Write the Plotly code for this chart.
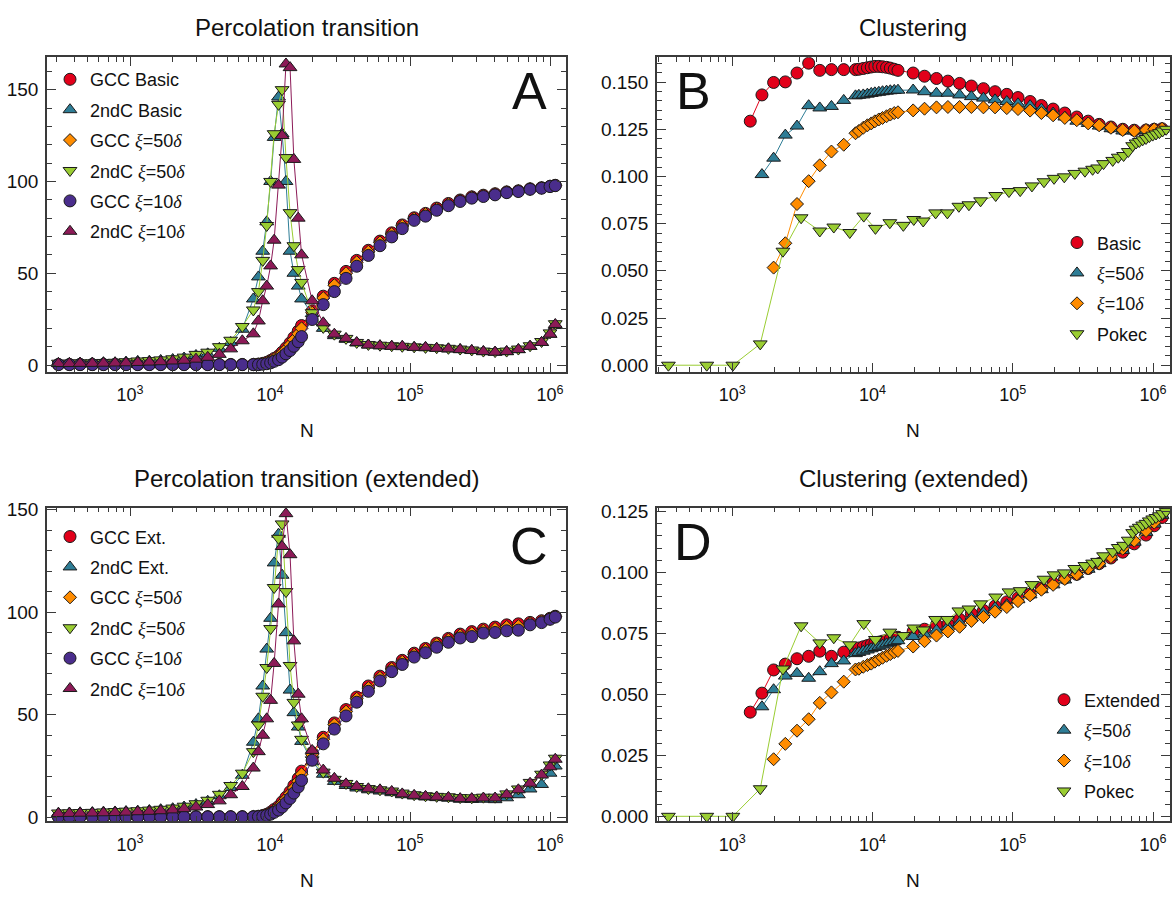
import plotly.graph_objects as go

# ---------------- network sizes ----------------
# percolation panels (A, C)
N_PERC = [308, 369, 440, 538, 646, 782, 936, 1135, 1374, 1656, 2018, 2432, 2958, 3589, 4345, 5236, 6339,
          7600, 8260, 8870, 9470, 10100, 10700, 11500, 12200, 13000, 13900, 14800, 15900, 16800,
          20000, 24000, 28800, 34900, 41600, 50400, 61000, 74000, 88000, 107000, 129000, 155000, 188000,
          228000, 276000, 334000, 405000, 490000, 594000, 720000, 870000, 1000000, 1090000]

# clustering panels (B, D) - model runs
N_CLUS = [1345, 1630, 1974, 2392, 2898, 3510, 4210, 5100, 6240, 7570,
          8000, 8600, 9200, 9800, 10400, 11100, 11800, 12600, 13400, 14300, 15200,
          19500, 23500, 28600, 34500, 41800, 50700, 61800, 74800, 90700, 109000, 133000, 160000,
          194000, 235000, 286000, 345000, 413000, 501000, 608000, 735000, 891000, 1020000, 1160000]
N_CLUS_50 = N_CLUS[1:]
N_CLUS_10 = N_CLUS[2:]

# Pokec samples
N_POKEC = [351, 659, 1011, 1585, 2300, 3100, 4210, 5300, 6890, 8670, 10500, 13300, 16600, 19700, 23000,
           28200, 34200, 41300, 48700, 59000, 75600, 94000, 113000, 137000, 167000, 197000, 233000,
           277000, 327000, 371000, 403000, 444000, 516000, 565000, 617000, 666000, 716000, 757000,
           798000, 844000, 891000, 941000, 995000, 1050000, 1110000, 1170000, 1240000]
C_POKEC = [0.0, 0.0, 0.0, 0.0113, 0.0604, 0.0781, 0.0711, 0.0732, 0.0703, 0.0790,
           0.0725, 0.0755, 0.0741, 0.0772, 0.0764, 0.0807, 0.0807, 0.0842, 0.0850, 0.0871,
           0.0899, 0.0920, 0.0925, 0.0950, 0.0972, 0.0990, 0.0998, 0.1016, 0.1028, 0.1038,
           0.1045, 0.1068, 0.1085, 0.1102, 0.1111, 0.1132, 0.1163, 0.1177, 0.1185, 0.1194,
           0.1201, 0.1211, 0.1219, 0.1225, 0.1232, 0.1241, 0.1250]

# ---------------- A: percolation transition ----------------
GCC_BASIC_A = [0.3, 0.3, 0.3, 0.3, 0.3, 0.3, 0.3, 0.3, 0.3, 0.3, 0.3, 0.3, 0.3, 0.3, 0.3, 0.3, 0.3,
               0.3, 0.5, 0.9, 1.5, 2.5, 3.6, 5.0, 7.0, 9.3, 12.0, 15.0, 18.5, 21.5,
               29.5, 37.5, 44.5, 51.0, 57.0, 62.5, 67.5, 72.0, 76.3, 80.2, 82.6, 85.5, 88.0,
               89.9, 91.6, 92.5, 93.3, 94.3, 94.9, 96.0, 96.6, 97.4, 97.9]
SND_BASIC_A = [0.9, 0.9, 1.1, 1.1, 1.3, 1.3, 1.6, 2.0, 2.1, 2.5, 3.0, 3.8, 5.2, 6.1, 9.1, 12.3, 19.5,
               36, 48, 62, 78, 100, 124, 146, 126, 100, 62, 50, 43, 36,
               28.0, 20.0, 16.0, 14.0, 12.0, 10.9, 10.5, 10.2, 10.0, 9.6, 9.4, 9.1, 8.8,
               8.4, 7.9, 7.3, 7.0, 7.3, 8.4, 10.2, 12.3, 16.8, 21.5]
GCC_50_A = [0.3, 0.3, 0.3, 0.3, 0.3, 0.3, 0.3, 0.3, 0.3, 0.3, 0.3, 0.3, 0.3, 0.3, 0.3, 0.3, 0.3,
            0.3, 0.4, 0.8, 1.4, 2.2, 3.3, 4.6, 6.5, 8.6, 11.0, 13.8, 17.0, 20.0,
            28.5, 36.5, 43.5, 50.0, 56.0, 61.7, 66.8, 71.4, 75.8, 79.7, 82.2, 85.1, 87.6,
            89.6, 91.4, 92.3, 93.1, 94.2, 94.8, 95.9, 96.5, 97.3, 97.8]
SND_50_A = [1.0, 1.0, 1.2, 1.2, 1.4, 1.5, 1.8, 2.2, 2.4, 2.8, 3.4, 4.3, 5.8, 7.0, 10.0, 13.5, 21.0,
            30, 40, 57, 76, 100, 126, 142, 150, 113, 83, 65, 52, 45,
            28.5, 20.5, 16.8, 14.5, 12.3, 11.2, 10.8, 10.5, 10.2, 9.9, 9.6, 9.4, 9.1,
            8.7, 8.2, 7.6, 7.3, 7.6, 8.7, 10.5, 12.8, 17.5, 22.5]
GCC_10_A = [0.2, 0.2, 0.2, 0.2, 0.2, 0.2, 0.2, 0.2, 0.2, 0.2, 0.2, 0.2, 0.2, 0.2, 0.2, 0.2, 0.2,
            0.2, 0.2, 0.4, 0.7, 1.2, 2.0, 2.9, 4.3, 6.1, 7.9, 10.2, 12.7, 15.5,
            24.8, 32.9, 40.0, 47.2, 53.8, 59.7, 65.0, 69.8, 74.3, 78.8, 81.1, 84.3, 86.8,
            89.1, 90.9, 91.8, 92.7, 93.9, 94.5, 95.7, 96.3, 97.2, 97.7]
SND_10_A = [0.8, 0.8, 0.9, 0.9, 1.0, 1.1, 1.2, 1.4, 1.6, 1.8, 2.2, 2.6, 3.2, 4.2, 5.8, 8.8, 13.2,
            17, 24, 35, 43, 54, 68, 98, 125, 164, 162, 112, 80, 60,
            35.0, 23.0, 16.8, 14.5, 12.3, 10.9, 10.5, 10.2, 10.2, 9.6, 9.6, 9.1, 8.8,
            8.4, 7.9, 7.3, 7.0, 7.3, 8.4, 10.2, 12.3, 16.8, 22.1]

# ---------------- C: percolation transition (extended) ----------------
GCC_EXT_C = [0.3, 0.3, 0.3, 0.3, 0.3, 0.3, 0.3, 0.3, 0.3, 0.3, 0.3, 0.3, 0.3, 0.3, 0.3, 0.3, 0.3,
             0.3, 0.5, 0.9, 1.5, 2.5, 3.8, 5.3, 7.5, 9.8, 12.5, 15.5, 19.0, 22.5,
             31.5, 39.0, 46.0, 52.5, 58.6, 64.0, 68.8, 73.0, 76.5, 80.0, 82.3, 84.9, 87.2,
             89.3, 90.5, 91.7, 92.7, 93.8, 94.3, 95.0, 95.8, 97.0, 98.0]
SND_EXT_C = [2.0, 2.1, 2.2, 2.3, 2.5, 2.6, 2.8, 3.0, 3.3, 3.7, 4.2, 5.0, 6.2, 7.8, 10.5, 14.5, 20.5,
             36.6, 48, 64, 82, 97, 124, 138, 118, 90, 62, 51, 44, 37,
             27.0, 21.0, 17.5, 15.5, 14.3, 13.4, 12.8, 12.0, 11.0, 10.4, 9.9, 9.6, 9.3,
             8.8, 8.7, 8.8, 8.6, 9.5, 11.0, 13.8, 16.0, 21.5, 25.0]
GCC_50_C = [0.3, 0.3, 0.3, 0.3, 0.3, 0.3, 0.3, 0.3, 0.3, 0.3, 0.3, 0.3, 0.3, 0.3, 0.3, 0.3, 0.3,
            0.3, 0.4, 0.8, 1.3, 2.2, 3.4, 4.8, 6.8, 9.0, 11.5, 14.3, 17.6, 21.0,
            30.5, 38.0, 45.2, 51.5, 57.8, 63.0, 68.0, 72.3, 75.8, 79.3, 81.6, 84.3, 86.6,
            88.7, 89.7, 91.0, 91.8, 92.8, 93.2, 94.6, 95.5, 96.8, 97.8]
SND_50_C = [2.1, 2.2, 2.3, 2.4, 2.6, 2.8, 3.0, 3.2, 3.5, 3.9, 4.5, 5.4, 6.6, 8.3, 11.2, 15.5, 21.5,
            32, 45, 59, 73, 92, 112, 136, 143, 110, 74, 56, 45, 38,
            28.0, 22.0, 18.5, 16.5, 15.0, 14.0, 13.4, 12.8, 11.8, 11.0, 10.5, 10.2, 10.0,
            9.6, 9.5, 9.8, 9.8, 11.4, 13.8, 17.0, 21.0, 25.5, 28.8]
GCC_10_C = [0.2, 0.2, 0.2, 0.2, 0.2, 0.2, 0.2, 0.2, 0.2, 0.2, 0.2, 0.2, 0.2, 0.2, 0.2, 0.2, 0.2,
            0.2, 0.3, 0.5, 0.9, 1.5, 2.4, 3.5, 5.0, 7.0, 9.2, 11.8, 14.8, 18.0,
            27.8, 35.8, 43.0, 49.4, 56.1, 61.4, 66.5, 71.0, 74.5, 78.1, 80.2, 82.9, 85.3,
            87.4, 88.1, 89.8, 90.1, 90.9, 91.2, 93.8, 94.9, 96.5, 97.6]
SND_10_C = [1.8, 1.9, 2.0, 2.1, 2.2, 2.3, 2.5, 2.7, 2.9, 3.2, 3.6, 4.2, 5.0, 6.2, 8.0, 11.0, 15.0,
            24, 32, 40, 48, 57, 75, 104, 132, 148, 128, 86, 60, 48,
            32.6, 23.0, 19.0, 16.3, 15.0, 13.9, 13.4, 12.6, 11.4, 10.7, 10.2, 9.9, 9.7,
            9.1, 9.1, 9.4, 9.4, 11.0, 13.4, 16.6, 20.6, 24.6, 28.3]

# ---------------- B: clustering ----------------
CL_BASIC_B = [0.1293, 0.1432, 0.1498, 0.1501, 0.1548, 0.1600, 0.1562, 0.1566, 0.1566, 0.1566,
              0.1568, 0.1572, 0.1576, 0.1580, 0.1583, 0.1583, 0.1581, 0.1578, 0.1574, 0.1568, 0.1562,
              0.1548, 0.1531, 0.1519, 0.1505, 0.1493, 0.1479, 0.1465, 0.1449, 0.1435, 0.1418, 0.1397,
              0.1376, 0.1357, 0.1336, 0.1315, 0.1293, 0.1276, 0.1262, 0.1250, 0.1245, 0.1246, 0.1250, 0.1253]
CL_50_B = [0.1010, 0.1097, 0.1219, 0.1267, 0.1375, 0.1363, 0.1371, 0.1403, 0.1427,
           0.1430, 0.1432, 0.1436, 0.1440, 0.1443, 0.1446, 0.1449, 0.1452, 0.1454, 0.1456, 0.1457,
           0.1458, 0.1449, 0.1441, 0.1441, 0.1432, 0.1423, 0.1415, 0.1406, 0.1397, 0.1385, 0.1375,
           0.1357, 0.1336, 0.1315, 0.1293, 0.1281, 0.1267, 0.1253, 0.1241, 0.1241, 0.1242, 0.1246, 0.1250]
CL_10_B = [0.0517, 0.0646, 0.0854, 0.0975, 0.1059, 0.1132, 0.1168, 0.1229,
           0.1241, 0.1258, 0.1271, 0.1281, 0.1292, 0.1302, 0.1310, 0.1319, 0.1328, 0.1336, 0.1340,
           0.1350, 0.1359, 0.1366, 0.1368, 0.1368, 0.1368, 0.1366, 0.1366, 0.1362, 0.1357, 0.1349,
           0.1336, 0.1324, 0.1310, 0.1298, 0.1281, 0.1271, 0.1258, 0.1246, 0.1241, 0.1246, 0.1250, 0.1253]

# ---------------- D: clustering (extended) ----------------
CL_EXT_D = [0.0427, 0.0505, 0.0600, 0.0624, 0.0646, 0.0656, 0.0677, 0.0656, 0.0673, 0.0683,
            0.0690, 0.0695, 0.0700, 0.0705, 0.0710, 0.0714, 0.0718, 0.0722, 0.0726, 0.0730, 0.0734,
            0.0758, 0.0767, 0.0785, 0.0788, 0.0808, 0.0831, 0.0844, 0.0862, 0.0879, 0.0895, 0.0911,
            0.0935, 0.0956, 0.0976, 0.0992, 0.1016, 0.1036, 0.1059, 0.1083, 0.1117, 0.1153, 0.1191, 0.1225]
CL_50_D = [0.0449, 0.0519, 0.0575, 0.0586, 0.0566, 0.0593, 0.0626, 0.0637, 0.0667,
           0.0672, 0.0677, 0.0682, 0.0687, 0.0692, 0.0697, 0.0702, 0.0707, 0.0712, 0.0716, 0.0720,
           0.0737, 0.0747, 0.0763, 0.0777, 0.0794, 0.0814, 0.0835, 0.0855, 0.0868, 0.0888, 0.0908,
           0.0929, 0.0949, 0.0969, 0.0992, 0.1013, 0.1036, 0.1063, 0.1090, 0.1124, 0.1164, 0.1198, 0.1234]
CL_10_D = [0.0234, 0.0297, 0.0351, 0.0398, 0.0465, 0.0508, 0.0552, 0.0602,
           0.0605, 0.0613, 0.0620, 0.0626, 0.0634, 0.0642, 0.0650, 0.0658, 0.0665, 0.0673, 0.0678,
           0.0696, 0.0718, 0.0741, 0.0758, 0.0777, 0.0801, 0.0817, 0.0839, 0.0858, 0.0882, 0.0906,
           0.0929, 0.0949, 0.0973, 0.0992, 0.1016, 0.1036, 0.1063, 0.1097, 0.1130, 0.1170, 0.1204, 0.1238]

# ---------------- styling ----------------
RED, TEAL, ORANGE = "#E2001A", "#2E7D96", "#FF8C00"
GREEN, PURPLE, MAROON = "#9ACD32", "#4A2D8C", "#8C1A57"
SANS = "Liberation Sans, Arial, sans-serif"
SERIF = "Liberation Serif"


def xi(v):
    return ('<span style="font-family:%s"><i>ξ</i></span>=%s'
            '<span style="font-family:%s"><i>δ</i></span>' % (SERIF, v, SERIF))


SYM_SIZE = {"circle": 12, "triangle-up": 12, "triangle-down": 12, "diamond": 10}

fig = go.Figure()


def add_series(n, y, name, color, symbol, axis, legend):
    xa, ya = axis
    grp = legend + name
    fig.add_trace(go.Scatter(x=n, y=y, mode="lines", xaxis=xa, yaxis=ya,
                             line=dict(color=color, width=1), showlegend=False,
                             legendgroup=grp, legend=legend, hoverinfo="skip"))
    fig.add_trace(go.Scatter(x=n, y=y, mode="markers", xaxis=xa, yaxis=ya, name=name,
                             marker=dict(symbol=symbol, size=SYM_SIZE[symbol], color=color,
                                         line=dict(color="#1a1a1a", width=1)),
                             legendgroup=grp, legend=legend))


AX_A, AX_B, AX_C, AX_D = ("x", "y"), ("x2", "y2"), ("x3", "y3"), ("x4", "y4")

add_series(N_PERC, GCC_BASIC_A, "GCC Basic", RED, "circle", AX_A, "legend")
add_series(N_PERC, SND_BASIC_A, "2ndC Basic", TEAL, "triangle-up", AX_A, "legend")
add_series(N_PERC, GCC_50_A, "GCC " + xi(50), ORANGE, "diamond", AX_A, "legend")
add_series(N_PERC, SND_50_A, "2ndC " + xi(50), GREEN, "triangle-down", AX_A, "legend")
add_series(N_PERC, GCC_10_A, "GCC " + xi(10), PURPLE, "circle", AX_A, "legend")
add_series(N_PERC, SND_10_A, "2ndC " + xi(10), MAROON, "triangle-up", AX_A, "legend")

add_series(N_CLUS, CL_BASIC_B, "Basic", RED, "circle", AX_B, "legend2")
add_series(N_CLUS_50, CL_50_B, xi(50), TEAL, "triangle-up", AX_B, "legend2")
add_series(N_CLUS_10, CL_10_B, xi(10), ORANGE, "diamond", AX_B, "legend2")
add_series(N_POKEC, C_POKEC, "Pokec", GREEN, "triangle-down", AX_B, "legend2")

add_series(N_PERC, GCC_EXT_C, "GCC Ext.", RED, "circle", AX_C, "legend3")
add_series(N_PERC, SND_EXT_C, "2ndC Ext.", TEAL, "triangle-up", AX_C, "legend3")
add_series(N_PERC, GCC_50_C, "GCC " + xi(50), ORANGE, "diamond", AX_C, "legend3")
add_series(N_PERC, SND_50_C, "2ndC " + xi(50), GREEN, "triangle-down", AX_C, "legend3")
add_series(N_PERC, GCC_10_C, "GCC " + xi(10), PURPLE, "circle", AX_C, "legend3")
add_series(N_PERC, SND_10_C, "2ndC " + xi(10), MAROON, "triangle-up", AX_C, "legend3")

add_series(N_CLUS, CL_EXT_D, "Extended", RED, "circle", AX_D, "legend4")
add_series(N_CLUS_50, CL_50_D, xi(50), TEAL, "triangle-up", AX_D, "legend4")
add_series(N_CLUS_10, CL_10_D, xi(10), ORANGE, "diamond", AX_D, "legend4")
add_series(N_POKEC, C_POKEC, "Pokec", GREEN, "triangle-down", AX_D, "legend4")

# ---------------- axes ----------------
W, H = 1173, 898
LINE = "#3a3a3a"
MINOR_LOG = [k * 10 ** d for d in range(2, 7) for k in range(2, 10)]
DEC = [1000, 10000, 100000, 1000000]
DEC_TXT = ["10<sup>3</sup>", "10<sup>4</sup>", "10<sup>5</sup>", "10<sup>6</sup>"]


def px_dom(a, b, size, flip=False):
    if flip:
        return [1 - b / size, 1 - a / size]
    return [a / size, b / size]


def xaxis(dom, rng, anchor):
    return dict(type="log", domain=px_dom(*dom, W), range=rng, anchor=anchor,
                tickvals=DEC, ticktext=DEC_TXT, ticks="inside", ticklen=9, tickwidth=1,
                tickcolor=LINE, showline=True, linecolor=LINE, linewidth=1.5, mirror="allticks",
                showgrid=False, zeroline=False, ticklabelstandoff=6,
                tickfont=dict(family=SANS, size=18, color="#111"),
                minor=dict(tickvals=MINOR_LOG, ticks="inside", ticklen=5, tickcolor=LINE, showgrid=False))


def yaxis(dom, rng, anchor, dtick, mdtick, fmt):
    return dict(domain=px_dom(*dom, H, flip=True), range=rng, anchor=anchor,
                tick0=0, dtick=dtick, tickformat=fmt, ticks="inside", ticklen=9, tickwidth=1,
                tickcolor=LINE, showline=True, linecolor=LINE, linewidth=1.5, mirror="allticks",
                showgrid=False, zeroline=False, ticklabelstandoff=3,
                tickfont=dict(family=SANS, size=19, color="#111"),
                minor=dict(dtick=mdtick, ticks="inside", ticklen=5, tickcolor=LINE, showgrid=False))


XL, XR = (47, 566), (657, 1170)
YT, YB = (50, 370), (508, 827)

fig.update_layout(
    xaxis=xaxis(XL, [2.407, 6.114], "y"),
    yaxis=yaxis(YT, [-3.7, 167.7], "x", 50, 10, "d"),
    xaxis2=xaxis(XR, [2.464, 6.121], "y2"),
    yaxis2=yaxis(YT, [-0.0035, 0.1632], "x2", 0.025, 0.005, ".3f"),
    xaxis3=xaxis(XL, [2.407, 6.114], "y3"),
    yaxis3=yaxis(YB, [-1.9, 151], "x3", 50, 10, "d"),
    xaxis4=xaxis(XR, [2.464, 6.121], "y4"),
    yaxis4=yaxis(YB, [-0.002, 0.1266], "x4", 0.025, 0.005, ".3f"),
)


def legend_at(x_px, y_px):
    return dict(x=x_px / W, y=1 - y_px / H, xanchor="left", yanchor="top",
                bgcolor="rgba(0,0,0,0)", borderwidth=0, tracegroupgap=4,
                font=dict(family=SANS, size=18, color="#111"), itemwidth=30)


fig.update_layout(
    legend=legend_at(50, 54),
    legend2=legend_at(1057, 220),
    legend3=legend_at(50, 519),
    legend4=legend_at(1044, 685),
)

# ---------------- titles and labels ----------------
ann = []


def text(x, y, s, size, **kw):
    ann.append(dict(x=x / W, y=1 - y / H, xref="paper", yref="paper", text=s, showarrow=False,
                    xanchor="center", yanchor="middle",
                    font=dict(family=SANS, size=size, color="#111"), **kw))


text(307, 20, "Percolation transition", 24)
text(913, 20, "Clustering", 24)
text(307, 478, "Percolation transition (extended)", 24)
text(913, 478, "Clustering (extended)", 24)
for cx, cy in [(307, 430), (913, 430), (307, 887), (913, 887)]:
    text(cx, cy, "N", 19)
for cx, cy, s in [(529, 84, "A"), (693, 84, "B"), (529, 547, "C"), (693, 543, "D")]:
    text(cx, cy, s, 52)

fig.update_layout(annotations=ann, width=W, height=H, margin=dict(l=0, r=0, t=0, b=0),
                  plot_bgcolor="white", paper_bgcolor="white", font=dict(family=SANS))

fig.write_html("out.html")
